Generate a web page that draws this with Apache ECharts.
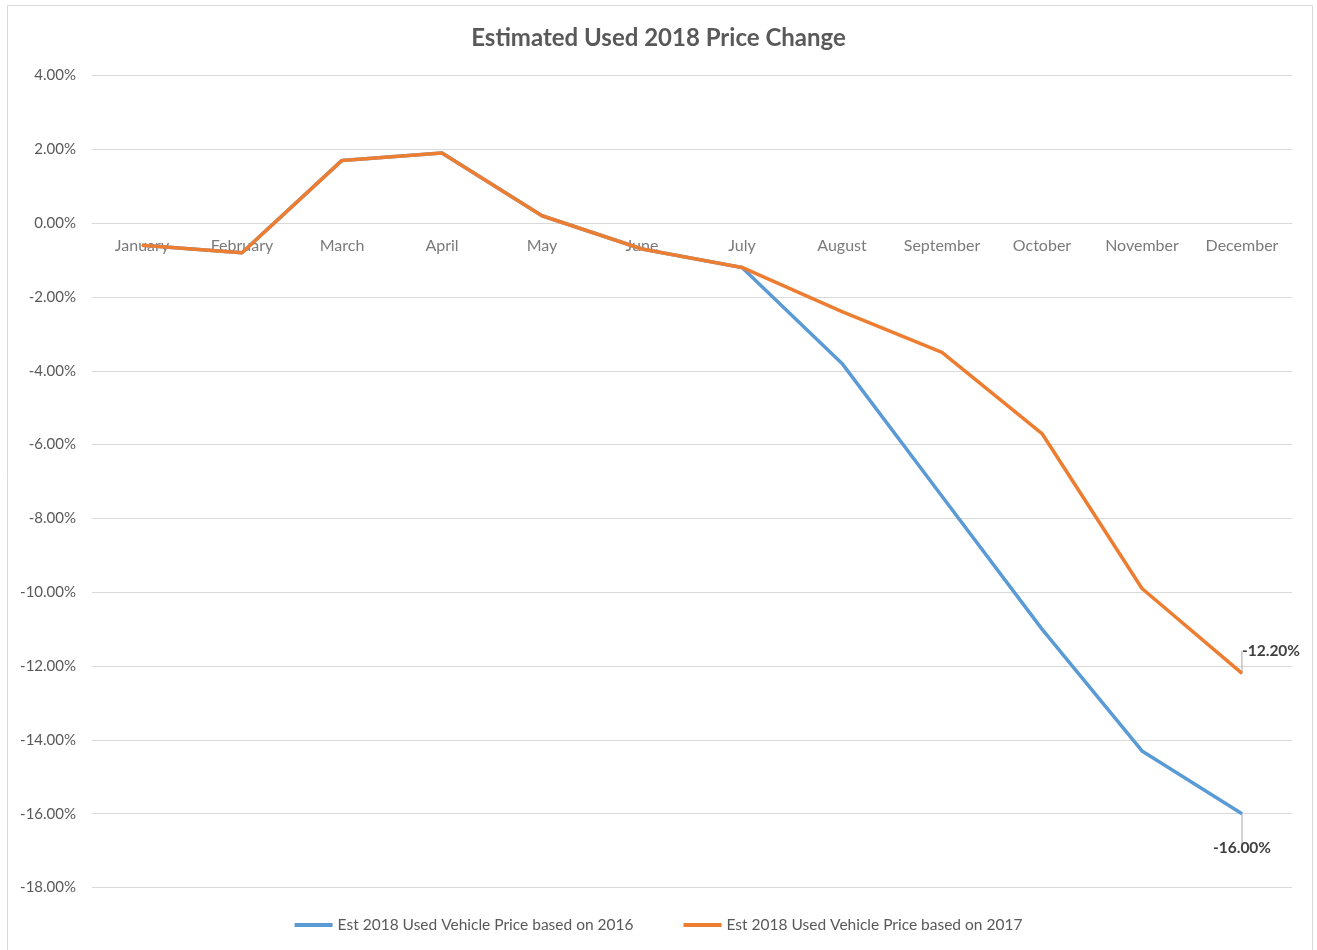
<!DOCTYPE html>
<html>
<head>
<meta charset="utf-8">
<script src="https://cdn.jsdelivr.net/npm/echarts@6/dist/echarts.min.js"></script>
<style>
html,body{margin:0;padding:0;background:#fff;}
#chart{width:1317px;height:950px;}
</style>
</head>
<body>
<div id="chart"></div>
<script>
var months = ['January','February','March','April','May','June','July','August','September','October','November','December'];
var based2016 = [-0.6, -0.8, 1.7, 1.9, 0.2, -0.7, -1.2, -3.8, -7.4, -11.0, -14.3, -16.0];
var based2017 = [-0.6, -0.8, 1.7, 1.9, 0.2, -0.7, -1.2, -2.4, -3.5, -5.7, -9.9, -12.2];
var seriesNames = ['Est 2018 Used Vehicle Price based on 2016', 'Est 2018 Used Vehicle Price based on 2017'];
var titleText = 'Estimated Used 2018 Price Change';

var FONT = 'Lato, "Open Sans", sans-serif';
var TXT = '#595959';

function withEndLabel(arr, pos, dist, pad) {
  return arr.map(function (v, i) {
    if (i !== arr.length - 1) return v;
    return {
      value: v,
      label: {
        show: true,
        position: pos,
        distance: dist,
        padding: pad,
        formatter: function (p) { return p.value.toFixed(2) + '%'; },
        fontFamily: FONT, fontSize: 15.5, fontWeight: 'bold', color: '#404040'
      },
      labelLine: { show: true, length2: 0, smooth: false, lineStyle: { color: '#A6A6A6', width: 1 } }
    };
  });
}
function endLayout(dx, dy) {
  return function (p) {
    if (p.dataIndex === months.length - 1) return { dx: dx, dy: dy };
    return {};
  };
}

var chart = echarts.init(document.getElementById('chart'), null, {renderer: 'canvas'});
chart.setOption({
  animation: false,
  backgroundColor: '#fff',
  graphic: [{
    type: 'rect',
    shape: { x: 7.5, y: 5.5, width: 1305, height: 960 },
    style: { fill: 'none', stroke: '#D9D9D9', lineWidth: 1 },
    silent: true
  }],
  title: {
    text: titleText,
    left: 'center',
    top: 21,
    textStyle: { fontFamily: FONT, fontSize: 24, fontWeight: 'bold', color: TXT }
  },
  legend: {
    bottom: 12,
    left: 'center',
    itemGap: 50,
    itemWidth: 38,
    itemHeight: 4,
    icon: 'rect',
    textStyle: { fontFamily: FONT, fontSize: 15.5, color: TXT },
    data: seriesNames
  },
  grid: { left: 92, right: 25, top: 75.5, bottom: 62.5, containLabel: false },
  xAxis: {
    type: 'category',
    data: months,
    boundaryGap: true,
    axisLine: { show: true, onZero: true, lineStyle: { color: '#D9D9D9' } },
    axisTick: { show: false },
    axisLabel: { show: false }
  },
  yAxis: {
    type: 'value',
    min: -18, max: 4, interval: 2,
    axisLine: { show: false },
    axisTick: { show: false },
    splitLine: { lineStyle: { color: '#D9D9D9', width: 1 } },
    axisLabel: {
      fontFamily: FONT, fontSize: 15, color: TXT, margin: 16,
      formatter: function (v) { return v.toFixed(2) + '%'; }
    }
  },
  series: [
    {
      name: 'axisLabels',
      type: 'scatter',
      data: months.map(function (m) { return [m, 0]; }),
      symbolSize: 0,
      silent: true,
      z: 1,
      label: {
        show: true,
        position: 'bottom',
        distance: 15,
        formatter: function (p) { return p.value[0]; },
        fontFamily: FONT, fontSize: 16, color: TXT
      }
    },
    {
      name: seriesNames[0],
      type: 'line',
      data: withEndLabel(based2016, 'bottom', 26, 0),
      symbol: 'circle', symbolSize: 1, showSymbol: true,
      lineStyle: { color: '#5B9BD5', width: 3.5, join: 'round' },
      itemStyle: { color: '#5B9BD5' },
      emphasis: { disabled: true },
      z: 2
    },
    {
      name: seriesNames[1],
      type: 'line',
      data: withEndLabel(based2017, 'inside', 0, [0, 0, 0, 24]),
      labelLayout: endLayout(17, -22),
      symbol: 'circle', symbolSize: 1, showSymbol: true,
      lineStyle: { color: '#ED7D31', width: 3.5, join: 'round' },
      itemStyle: { color: '#ED7D31' },
      emphasis: { disabled: true },
      z: 3
    }
  ]
});
</script>
</body>
</html>
